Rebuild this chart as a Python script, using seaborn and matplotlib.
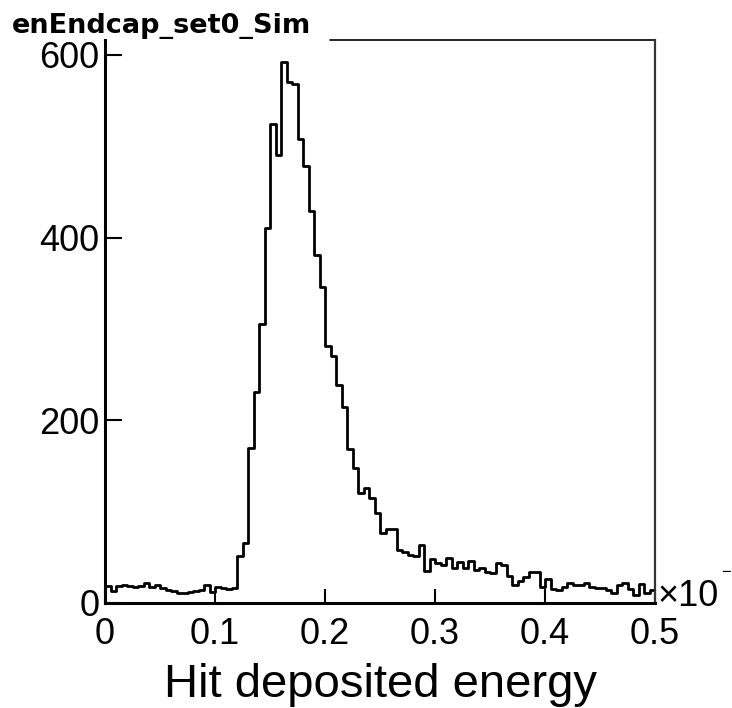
import numpy as np
import pandas as pd
import matplotlib
matplotlib.use("Agg")
import matplotlib.pyplot as plt
import seaborn as sns

# ---- data ----
x_min, x_max, n_bins = 0.0, 0.5, 100
counts = [19, 13, 19, 20, 19, 18, 19, 22, 18, 20,
          16, 14, 13, 11, 11, 12, 13, 14, 20, 12,
          18, 16, 15, 16, 51, 66, 170, 231, 305, 411,
          524, 490, 592, 570, 568, 508, 478, 429, 381, 346,
          281, 270, 239, 215, 169, 148, 120, 126, 115, 99,
          77, 81, 81, 58, 56, 53, 51, 64, 35, 48,
          44, 42, 49, 38, 45, 38, 46, 36, 38, 34,
          33, 44, 42, 30, 20, 24, 28, 34, 34, 18,
          26, 15, 14, 18, 22, 20, 20, 22, 18, 16,
          16, 14, 11, 20, 22, 15, 9, 21, 11, 14]
x_ticks = [0, 0.1, 0.2, 0.3, 0.4, 0.5]
x_tick_labels = ["0", "0.1", "0.2", "0.3", "0.4", "0.5"]
y_ticks = [0, 200, 400, 600]
y_tick_labels = ["0", "200", "400", "600"]
title = "enEndcap_set0_Sim"
x_label = "Hit deposited energy"

bin_w = (x_max - x_min) / n_bins
centers = x_min + bin_w * (np.arange(n_bins) + 0.5)
df = pd.DataFrame({"energy": centers, "count": counts})

sns.set_style("ticks")
plt.rcParams["font.family"] = ["Liberation Sans", "DejaVu Sans"]

W, H = 732, 708
fig = plt.figure(figsize=(W / 100, H / 100), dpi=100)
ax = fig.add_axes([105 / W, (H - 603) / H, 550 / W, 563 / H])

sns.histplot(data=df, x="energy", weights="count", binwidth=bin_w,
             binrange=(x_min, x_max), element="step", fill=False,
             color="black", linewidth=2.0, ax=ax)

ax.set_xlim(x_min, x_max)
ax.set_ylim(0, 616.4)
ax.set_xticks(x_ticks)
ax.set_xticklabels(x_tick_labels)
ax.set_yticks(y_ticks)
ax.set_yticklabels(y_tick_labels)
ax.set_ylabel("")
ax.set_xlabel(x_label, fontsize=34, labelpad=8, color="black")

ax.tick_params(axis="x", direction="in", length=10, width=1.5,
               labelsize=26, pad=10, color="black", labelcolor="black")
ax.tick_params(axis="y", direction="in", length=12, width=1.5,
               labelsize=26, pad=4, color="black", labelcolor="black")

for side in ["left", "bottom"]:
    ax.spines[side].set_linewidth(2.2)
    ax.spines[side].set_color("black")
ax.spines["right"].set_visible(True)
ax.spines["right"].set_linewidth(1.6)
ax.spines["right"].set_color("#333333")
ax.spines["top"].set_visible(False)
# top frame line, partly hidden by the title box
ax.plot([(330 - 105) / 550, 1.0], [1.0, 1.0], transform=ax.transAxes,
        color="black", linewidth=1.2, clip_on=False)

fig.text(12 / W, 1 - 26 / H, title, fontsize=19.5, fontweight="bold",
         family="DejaVu Sans", ha="left", va="center", color="black")

fig.text(657 / W, 1 - 597 / H, "×10", fontsize=26, ha="left",
         va="center", color="black")
fig.text(721 / W, 1 - 573 / H, "−", fontsize=12, ha="left",
         va="center", color="black")

fig.savefig("out.png", dpi=100)
